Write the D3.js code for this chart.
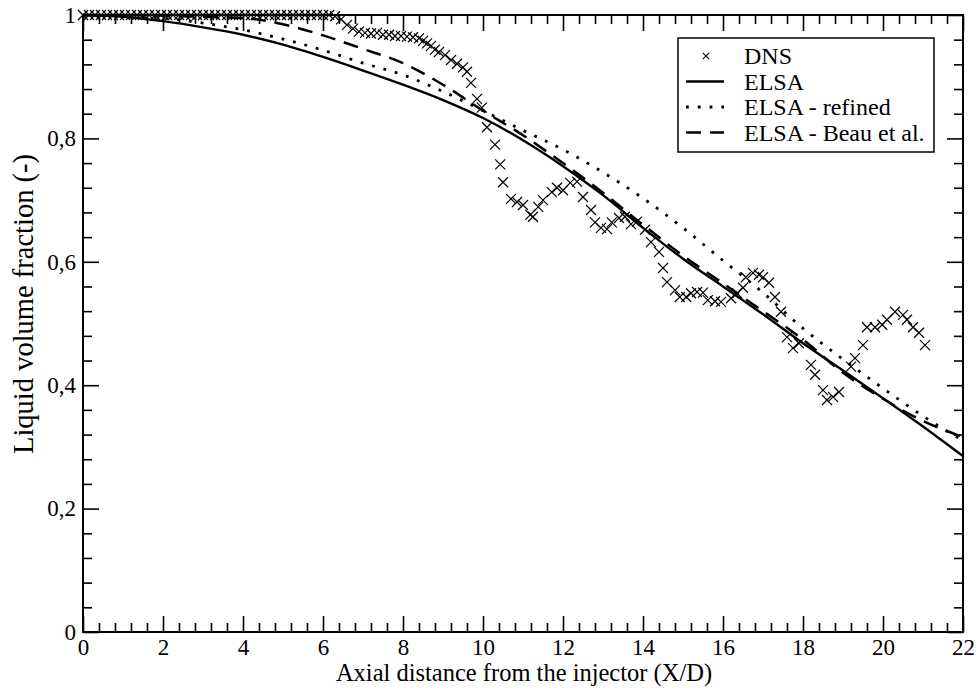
<!DOCTYPE html>
<html>
<head>
<meta charset="utf-8">
<script src="https://cdn.jsdelivr.net/npm/d3@7"></script>
<style>
  body { margin: 0; background: #fff; }
  text { font-family: "Liberation Serif", "Times New Roman", serif; fill: #000; }
</style>
</head>
<body>
<div id="chart"></div>
<script>
// chart values
var xMajor = [0, 2, 4, 6, 8, 10, 12, 14, 16, 18, 20, 22];
var xLabels = ['0', '2', '4', '6', '8', '10', '12', '14', '16', '18', '20', '22'];
var yMajor = [0, 0.2, 0.4, 0.6, 0.8, 1];
var yLabels = ['0', '0,2', '0,4', '0,6', '0,8', '1'];

var curveX = [0, 1, 2, 3, 4, 5, 6, 7, 8, 9, 10, 11, 12, 13, 14, 15, 16, 17, 18, 19, 20, 21, 22];
var elsa    = [1.0, 0.997, 0.99, 0.98, 0.968, 0.952, 0.932, 0.91, 0.887, 0.862, 0.833, 0.797, 0.755, 0.708, 0.655, 0.605, 0.56, 0.515, 0.468, 0.424, 0.379, 0.333, 0.285];
var refined = [1.0, 0.999, 0.995, 0.987, 0.976, 0.961, 0.943, 0.922, 0.903, 0.876, 0.845, 0.813, 0.782, 0.745, 0.703, 0.655, 0.602, 0.55, 0.492, 0.442, 0.395, 0.35, 0.31];
var beau    = [1.0, 1.0, 0.999, 0.997, 0.995, 0.985, 0.967, 0.945, 0.922, 0.887, 0.845, 0.805, 0.76, 0.712, 0.66, 0.61, 0.565, 0.52, 0.474, 0.42, 0.378, 0.342, 0.316];

var dnsX = [0, 0.15, 0.3, 0.45, 0.6, 0.75, 0.9, 1.05, 1.2, 1.35, 1.5, 1.65, 1.8, 1.95, 2.1, 2.25, 2.4, 2.55, 2.7, 2.85,
  3.0, 3.15, 3.3, 3.45, 3.6, 3.75, 3.9, 4.05, 4.2, 4.35, 4.5, 4.65, 4.8, 4.95, 5.1, 5.25, 5.4, 5.55, 5.7, 5.85,
  6.0, 6.15, 6.3, 6.45, 6.6, 6.75, 6.9, 7.05, 7.2, 7.35, 7.5, 7.65, 7.8, 7.95, 8.1, 8.25, 8.4, 8.5, 8.6, 8.7,
  8.8, 8.9, 9.05, 9.2, 9.35, 9.5, 9.6, 9.7, 9.85, 9.97, 10.1, 10.3, 10.43, 10.5, 10.7, 10.85, 11.0, 11.18, 11.25, 11.38,
  11.5, 11.72, 11.85, 12.0, 12.18, 12.35, 12.5, 12.7, 12.8, 12.95, 13.1, 13.22, 13.4, 13.55, 13.7, 13.85, 14.05, 14.2, 14.4, 14.5,
  14.6, 14.8, 14.92, 15.08, 15.2, 15.35, 15.5, 15.62, 15.8, 15.95, 16.2, 16.35, 16.5, 16.57, 16.75, 16.9, 17.0, 17.15, 17.3, 17.45,
  17.6, 17.75, 17.9, 18.2, 18.3, 18.5, 18.6, 18.75, 18.9, 19.2, 19.3, 19.5, 19.6, 19.8, 19.98, 20.1, 20.3, 20.5, 20.6, 20.75,
  20.9, 21.05];
var dnsY = [1, 1, 1, 1, 1, 1, 1, 1, 1, 1, 1, 1, 1, 1, 1, 1, 1, 1, 1, 1,
  1, 1, 1, 1, 1, 1, 1, 1, 1, 1, 1, 1, 1, 1, 1, 1, 1, 1, 1, 1,
  1, 1, 0.998, 0.993, 0.984, 0.978, 0.973, 0.971, 0.97, 0.971, 0.968, 0.968, 0.966, 0.966, 0.965, 0.964, 0.962, 0.958, 0.954, 0.95,
  0.944, 0.94, 0.935, 0.927, 0.921, 0.915, 0.908, 0.89, 0.864, 0.85, 0.818, 0.79, 0.758, 0.729, 0.702, 0.697, 0.692, 0.676, 0.673, 0.689,
  0.7, 0.713, 0.72, 0.716, 0.728, 0.73, 0.705, 0.684, 0.664, 0.655, 0.653, 0.664, 0.671, 0.673, 0.661, 0.665, 0.652, 0.632, 0.616, 0.59,
  0.567, 0.554, 0.543, 0.543, 0.549, 0.551, 0.55, 0.538, 0.536, 0.535, 0.541, 0.549, 0.558, 0.575, 0.582, 0.579, 0.575, 0.566, 0.543, 0.519,
  0.478, 0.46, 0.468, 0.433, 0.417, 0.392, 0.376, 0.381, 0.389, 0.43, 0.444, 0.465, 0.494, 0.494, 0.498, 0.506, 0.519, 0.514, 0.506, 0.494,
  0.485, 0.465];

var legendNames = ['DNS', 'ELSA', 'ELSA - refined', 'ELSA - Beau et al.'];

// layout
var width = 980, height = 694;
var plot = { left: 83, right: 963, top: 15, bottom: 632 };

var svg = d3.select('#chart').append('svg')
  .attr('width', width)
  .attr('height', height);

svg.append('rect')
  .attr('width', width)
  .attr('height', height)
  .attr('fill', '#fff');

var x = d3.scaleLinear().domain([0, 22]).range([plot.left, plot.right]);
var y = d3.scaleLinear().domain([0, 1]).range([plot.bottom, plot.top]);

var xMinor = d3.range(0, 22.001, 0.4).filter(function(v){ return Math.abs(v / 2 - Math.round(v / 2)) > 0.01; });
var yMinor = d3.range(0, 1.0001, 0.04).filter(function(v){ return Math.abs(v / 0.2 - Math.round(v / 0.2)) > 0.01; });

function addAxis(axis, tx, ty) {
  var g = svg.append('g')
    .attr('class', 'axis')
    .attr('transform', 'translate(' + tx + ',' + ty + ')')
    .call(axis);
  g.select('.domain').remove();
  return g;
}

// bottom + top, left + right (ticks pointing inward)
addAxis(d3.axisBottom(x).tickValues(xMajor).tickSize(-16).tickPadding(7)
  .tickFormat(function(d, i){ return xLabels[i]; }), 0, plot.bottom);
addAxis(d3.axisBottom(x).tickValues(xMinor).tickSize(-9).tickFormat(''), 0, plot.bottom);
addAxis(d3.axisTop(x).tickValues(xMajor).tickSize(-16).tickFormat(''), 0, plot.top);
addAxis(d3.axisTop(x).tickValues(xMinor).tickSize(-9).tickFormat(''), 0, plot.top);

addAxis(d3.axisLeft(y).tickValues(yMajor).tickSize(-16).tickPadding(7)
  .tickFormat(function(d, i){ return yLabels[i]; }), plot.left, 0);
addAxis(d3.axisLeft(y).tickValues(yMinor).tickSize(-9).tickFormat(''), plot.left, 0);
addAxis(d3.axisRight(y).tickValues(yMajor).tickSize(-16).tickFormat(''), plot.right, 0);
addAxis(d3.axisRight(y).tickValues(yMinor).tickSize(-9).tickFormat(''), plot.right, 0);

svg.selectAll('.axis .tick line')
  .style('stroke', '#000')
  .style('stroke-width', '1.6px');
svg.selectAll('.axis .tick text')
  .style('font-family', '"Liberation Serif", serif')
  .style('font-size', '23px')
  .style('fill', '#000');

// frame
svg.append('rect')
  .attr('x', plot.left).attr('y', plot.top)
  .attr('width', plot.right - plot.left)
  .attr('height', plot.bottom - plot.top)
  .attr('fill', 'none')
  .attr('stroke', '#000')
  .attr('stroke-width', 2);

// curves
var line = d3.line()
  .x(function(d){ return x(d[0]); })
  .y(function(d){ return y(d[1]); })
  .curve(d3.curveMonotoneX);

function pairs(xs, ys) { return xs.map(function(v, i){ return [v, ys[i]]; }); }

svg.append('path').datum(pairs(curveX, elsa))
  .attr('d', line).attr('fill', 'none')
  .attr('stroke', '#000').attr('stroke-width', 2.4);

svg.append('path').datum(pairs(curveX, refined))
  .attr('d', line).attr('fill', 'none')
  .attr('stroke', '#000').attr('stroke-width', 2.8)
  .attr('stroke-dasharray', '2.8,9');

svg.append('path').datum(pairs(curveX, beau))
  .attr('d', line).attr('fill', 'none')
  .attr('stroke', '#000').attr('stroke-width', 2.5)
  .attr('stroke-dasharray', '15,9');

// DNS crosses
function cross(s) { return 'M' + (-s) + ',' + (-s) + 'L' + s + ',' + s + 'M' + (-s) + ',' + s + 'L' + s + ',' + (-s); }

svg.append('g').selectAll('path')
  .data(pairs(dnsX, dnsY))
  .enter().append('path')
  .attr('transform', function(d){ return 'translate(' + x(d[0]) + ',' + y(d[1]) + ')'; })
  .attr('d', cross(5))
  .attr('fill', 'none')
  .attr('stroke', '#000')
  .attr('stroke-width', 1.2);

// axis titles
svg.append('text')
  .attr('x', 524)
  .attr('y', 681)
  .attr('text-anchor', 'middle')
  .attr('font-size', 24.5)
  .text('Axial distance from the injector (X/D)');

svg.append('text')
  .attr('transform', 'translate(33,304) rotate(-90)')
  .attr('text-anchor', 'middle')
  .attr('font-size', 28.5)
  .text('Liquid volume fraction (-)');

// legend
var leg = svg.append('g').attr('transform', 'translate(678,38)');
leg.append('rect')
  .attr('width', 256).attr('height', 114)
  .attr('fill', '#fff').attr('stroke', '#000').attr('stroke-width', 1.5);

legendNames.forEach(function(name, i) {
  var cy = 18 + i * 25.5;
  if (i === 0) {
    leg.append('path').attr('transform', 'translate(28,' + cy + ')')
      .attr('d', cross(3.2)).attr('stroke', '#000').attr('stroke-width', 1.1).attr('fill', 'none');
  } else {
    var l = leg.append('line').attr('x1', 8).attr('x2', 46).attr('y1', cy).attr('y2', cy)
      .attr('stroke', '#000');
    if (i === 1) l.attr('stroke-width', 2.4);
    if (i === 2) l.attr('stroke-width', 2.8).attr('stroke-dasharray', '2.8,9');
    if (i === 3) l.attr('stroke-width', 2.5).attr('stroke-dasharray', '15,9');
  }
  leg.append('text')
    .attr('x', 66).attr('y', cy + 8)
    .attr('font-size', 24)
    .text(name);
});
</script>
</body>
</html>
